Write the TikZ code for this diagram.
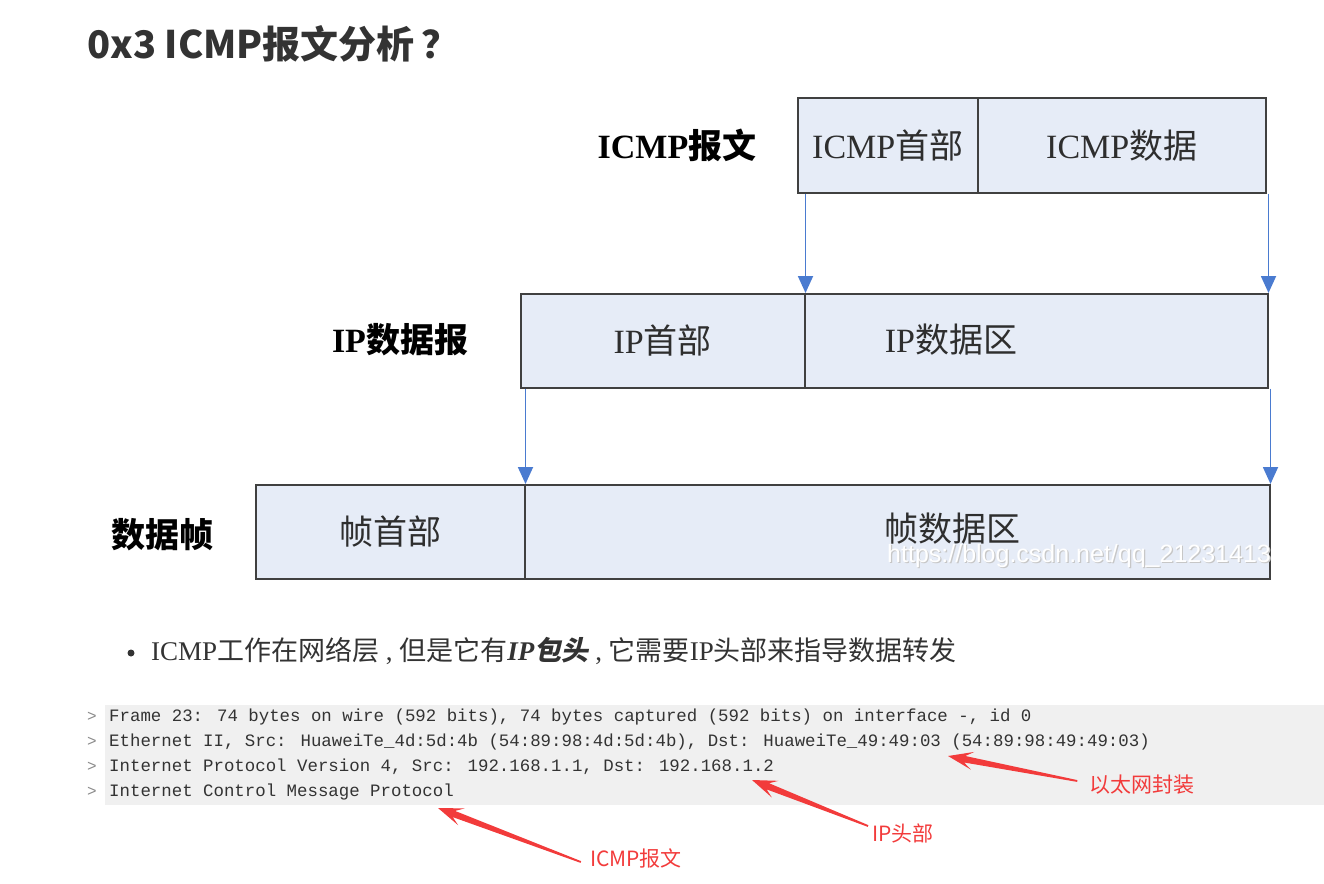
\documentclass[tikz,border=0pt]{standalone}
\usepackage{fontspec}
\setmainfont{Liberation Serif}
\newfontfamily\cjk{Noto Sans CJK SC}
\newfontfamily\cjkslant{Noto Sans CJK SC}[FakeSlant=0.2,BoldFeatures={FakeSlant=0.2}]
\newfontfamily\capfont{Liberation Mono}
\newfontfamily\wmfont{Liberation Sans}
\usetikzlibrary{arrows.meta,calc,shadows}

\definecolor{boxfill}{HTML}{E6ECF7}
\definecolor{boxline}{HTML}{404040}
\definecolor{flowblue}{HTML}{4A7BD0}
\definecolor{note}{HTML}{F23B3B}
\definecolor{band}{HTML}{F0F0F0}
\definecolor{ink}{HTML}{333333}
\definecolor{chev}{HTML}{8A8A8A}

% tapered red pointer: #1 = tail, #2 = tip
\newcommand{\notearrow}[2]{%
  \fill[note] ($(#1)!0.9pt!90:(#2)$)
    -- ($(#2)!17pt!(#1)!3.3pt!90:(#2)$)
    -- ($(#2)!25pt!(#1)!9pt!90:(#2)$)
    -- (#2)
    -- ($(#2)!25pt!(#1)!9pt!-90:(#2)$)
    -- ($(#2)!17pt!(#1)!3.3pt!-90:(#2)$)
    -- ($(#1)!0.9pt!-90:(#2)$) -- cycle;}

\tikzset{
  seg/.style={draw=boxline, fill=boxfill, line width=1.5pt, inner sep=0pt,
    anchor=north west, minimum height=95pt, text=ink!90!black,
    font=\fontsize{34}{40}\selectfont,
    drop shadow={shadow xshift=1.3pt, shadow yshift=-1.3pt, opacity=0.35}},
  rowlabel/.style={font=\fontsize{34}{40}\selectfont\bfseries, text=black, inner sep=0pt},
  segtext/.style={font=\fontsize{34}{40}\selectfont, text=ink!90!black, inner sep=0pt},
  flow/.style={draw=flowblue, line width=1.8pt, -{Triangle[width=15pt,length=17pt]}},
  capline/.style={anchor=west, inner sep=0pt, text=ink, font=\capfont\fontsize{17.4}{20}\selectfont},
  chevron/.style={inner sep=0pt, text=chev, font=\capfont\fontsize{16}{18}\selectfont},
  notetext/.style={text=note, inner sep=0pt, font=\cjk\fontsize{21}{24}\selectfont},
}

\begin{document}
\begin{tikzpicture}[x=1pt, y=-1pt]
\useasboundingbox (0,0) rectangle (1324,883);

% heading
\node[anchor=west, inner sep=0pt, text=ink, font=\cjk\bfseries\fontsize{38}{44}\selectfont]
  (title) at (87,44) {0x3 ICMP报文分析\hspace{7pt}？};

% ICMP message
\node[rowlabel] (lbicmp) at (677,145) {ICMP{\cjk 报文}};
\node[seg, minimum width=180pt] (icmph) at (797,97) {ICMP{\cjk 首部}};
\node[seg, minimum width=288pt] (icmpd) at (977,97) {ICMP{\cjk 数据}};

% IP datagram
\node[rowlabel] (lbip) at (400,340) {IP{\cjk 数据报}};
\node[seg, minimum width=284pt, minimum height=94pt] (iph) at (520,293) {IP{\cjk 首部}};
\node[seg, minimum width=463pt, minimum height=94pt] (ipd) at (804,293) {};
\node[segtext] (ipdtext) at (951,340) {IP{\cjk 数据区}};

% data frame
\node[rowlabel] (lbfr) at (162,535) {\cjk 数据帧};
\node[seg, minimum width=269pt, minimum height=94pt] (frh) at (255,484) {\cjk 帧首部};
\node[seg, minimum width=745pt, minimum height=94pt] (frd) at (524,484) {};
\node[segtext] (frdtext) at (952,529) {\cjk 帧数据区};
\node[anchor=west, inner sep=0pt, text=black!22, font=\wmfont\fontsize{25}{28}\selectfont]
  at (888.2,557.2) {https://blog.csdn.net/qq\_21231413};
\node[anchor=west, inner sep=0pt, text=white, font=\wmfont\fontsize{25}{28}\selectfont]
  (wm) at (887,556) {https://blog.csdn.net/qq\_21231413};

% encapsulation arrows
\draw[flow] (iph.north east |- icmph.south) -- (iph.north east);
\draw[flow] (ipd.north east |- icmpd.south) -- (ipd.north east);
\draw[flow] (frh.north east |- iph.south) -- (frh.north east);
\draw[flow] (frd.north east |- ipd.south) -- (frd.north east);

% bullet
\node[circle, fill=ink, inner sep=0pt, minimum size=7pt] (dot) at (131,653) {};
\node[anchor=west, inner sep=0pt, text=ink, font=\fontsize{27}{32}\selectfont] (remark) at (151,651)
  {ICMP{\cjk 工作在网络层} , {\cjk 但是它有}\textbf{\textit{IP}}{\cjkslant\bfseries 包头} , {\cjk 它需要}IP{\cjk 头部来指导数据转发}};

% packet capture
\fill[band] (105,705) rectangle (1324,805);
\node[chevron] (c1) at (92,717) {>};
\node[chevron] (c2) at (92,742) {>};
\node[chevron] (c3) at (92,767) {>};
\node[chevron] (c4) at (92,792) {>};
\node[capline] (frame) at (109,717) {Frame 23: 74 bytes on wire (592 bits), 74 bytes captured (592 bits) on interface -, id 0};
\node[capline] (eth) at (109,742) {Ethernet II, Src: HuaweiTe\_4d:5d:4b (54:89:98:4d:5d:4b), Dst: HuaweiTe\_49:49:03 (54:89:98:49:49:03)};
\node[capline] (ipv4) at (109,767) {Internet Protocol Version 4, Src: 192.168.1.1, Dst: 192.168.1.2};
\node[capline] (icmp) at (109,792) {Internet Control Message Protocol};

% annotations
\node[notetext] (ethnote) at (1142,785) {以太网封装};
\node[notetext] (ipnote) at (903,833) {IP头部};
\node[notetext] (icmpnote) at (636,858) {ICMP报文};
\coordinate (ethtip) at (948,756);
\coordinate (iptip) at (752,780);
\coordinate (icmptip) at (438,808);
\coordinate (ethtail) at ($(ethnote.west)+(-12,-4)$);
\coordinate (iptail) at ($(ipnote.west)+(-4,-7)$);
\coordinate (icmptail) at ($(icmpnote.west)+(-9,4)$);
\notearrow{ethtail}{ethtip}
\notearrow{iptail}{iptip}
\notearrow{icmptail}{icmptip}
\end{tikzpicture}
\end{document}
